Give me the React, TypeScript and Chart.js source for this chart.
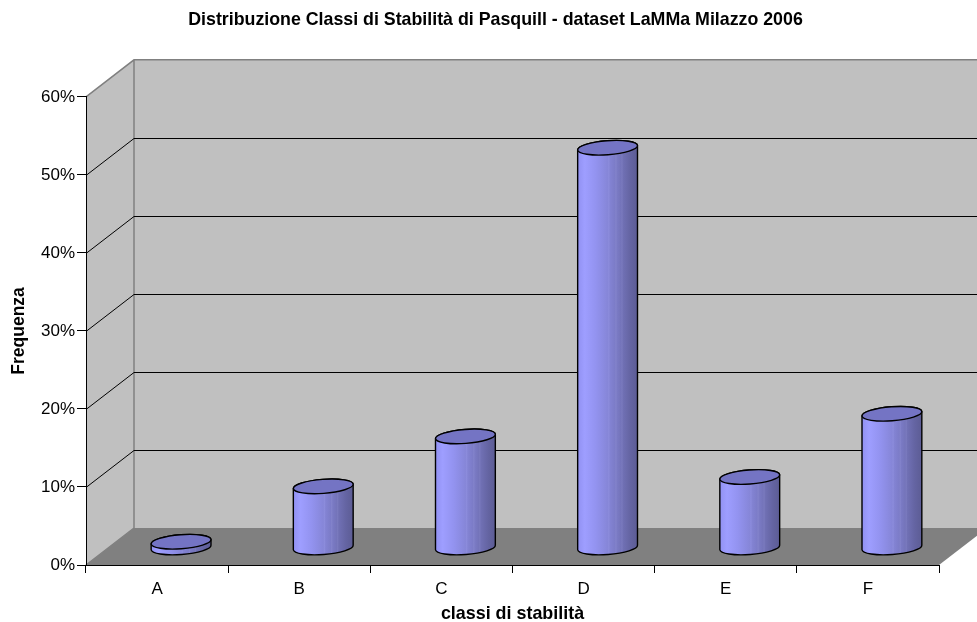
import React, { useEffect, useRef } from "react";
import { Chart, registerables } from "chart.js";

Chart.register(...registerables);

const categories = ["A", "B", "C", "D", "E", "F"];
const frequencies = [0.8, 7.9, 14.3, 51.3, 9.1, 17.2];
const chartTitle = "Distribuzione Classi di Stabilità di Pasquill - dataset LaMMa Milazzo 2006";
const xTitle = "classi di stabilità";
const yTitle = "Frequenza";

const DEPTH_X = 48;
const DEPTH_Y = 37;
const TITLE_SHIFT = 26;
const FONT = "'Liberation Sans', Arial, sans-serif";

const bodyStops: [number, string][] = [
  [0, "#9191f2"],
  [0.12, "#9e9eff"],
  [0.3, "#9393f0"],
  [0.5, "#8686d8"],
  [0.52, "#8c8cdc"],
  [0.54, "#8383d3"],
  [0.62, "#7c7cc8"],
  [0.64, "#8383cb"],
  [0.66, "#7a7ac4"],
  [0.72, "#7474ba"],
  [0.74, "#7a7abe"],
  [0.76, "#7070b4"],
  [0.88, "#6464a2"],
  [1, "#5c5c94"],
];

const cylinderPlugin = {
  id: "cylinder3d",
  afterLayout(chart: any) {
    const block = chart.titleBlock;
    if (block) {
      block.left += TITLE_SHIFT;
      block.right += TITLE_SHIFT;
    }
  },
  beforeDraw(chart: any) {
    const { ctx, chartArea, scales } = chart;
    const { left, right, top, bottom } = chartArea;
    const bx = left + DEPTH_X;
    const W = chart.width + DEPTH_X;
    ctx.save();
    ctx.fillStyle = "#c0c0c0";
    ctx.fillRect(bx, top - DEPTH_Y, W - bx, bottom - top);
    ctx.beginPath();
    ctx.moveTo(left, top);
    ctx.lineTo(bx, top - DEPTH_Y);
    ctx.lineTo(bx, bottom - DEPTH_Y);
    ctx.lineTo(left, bottom);
    ctx.closePath();
    ctx.fill();
    ctx.fillStyle = "#808080";
    ctx.beginPath();
    ctx.moveTo(left, bottom);
    ctx.lineTo(bx, bottom - DEPTH_Y);
    ctx.lineTo(right + DEPTH_X, bottom - DEPTH_Y);
    ctx.lineTo(right, bottom);
    ctx.closePath();
    ctx.fill();
    ctx.strokeStyle = "#808080";
    ctx.lineWidth = 1.5;
    ctx.beginPath();
    ctx.moveTo(left, top);
    ctx.lineTo(bx, top - DEPTH_Y);
    ctx.lineTo(W, top - DEPTH_Y);
    ctx.moveTo(bx, top - DEPTH_Y);
    ctx.lineTo(bx, bottom - DEPTH_Y);
    ctx.lineTo(left, bottom);
    ctx.stroke();
    ctx.strokeStyle = "#000000";
    ctx.lineWidth = 1;
    ctx.beginPath();
    for (const t of scales.y.ticks) {
      if (t.value === 0 || t.value === scales.y.max) continue;
      const y = Math.round(scales.y.getPixelForValue(t.value)) + 0.5;
      ctx.moveTo(left, y);
      ctx.lineTo(bx, y - DEPTH_Y);
      ctx.lineTo(W, y - DEPTH_Y);
    }
    ctx.stroke();
    ctx.restore();
  },
  beforeDatasetDraw(chart: any, args: any) {
    const { ctx } = chart;
    const bars = chart.getDatasetMeta(args.index).data;
    const dsColor = chart.data.datasets[args.index].backgroundColor;
    const rot = -0.075;
    const ry = 7;
    for (const bar of bars) {
      const x = bar.x + DEPTH_X / 2;
      const yTop = bar.y - DEPTH_Y / 2 + 1.5;
      const yBase = bar.base - DEPTH_Y / 2 + 1.5;
      const rx = bar.width / 2;
      const g = ctx.createLinearGradient(x - rx, 0, x + rx, 0);
      for (const [p, c] of bodyStops) g.addColorStop(p, c);
      ctx.save();
      ctx.lineJoin = "round";
      ctx.strokeStyle = "#000000";
      ctx.lineWidth = 1.4;
      ctx.fillStyle = g;
      ctx.beginPath();
      ctx.ellipse(x, yBase, rx, ry, rot, 0, Math.PI);
      ctx.ellipse(x, yTop, rx, ry, rot, Math.PI, Math.PI * 2);
      ctx.closePath();
      ctx.fill();
      ctx.stroke();
      ctx.fillStyle = dsColor;
      ctx.beginPath();
      ctx.ellipse(x, yTop, rx, ry, rot, 0, Math.PI * 2);
      ctx.fill();
      ctx.stroke();
      ctx.restore();
    }
    return false;
  },
};

export default function App() {
  const ref = useRef<HTMLCanvasElement>(null);
  useEffect(() => {
    const chart = new Chart(ref.current as HTMLCanvasElement, {
      type: "bar",
      data: {
        labels: categories,
        datasets: [
          {
            label: yTitle,
            data: frequencies,
            backgroundColor: "#7474c4",
            barThickness: 60,
          },
        ],
      },
      plugins: [cylinderPlugin],
      options: {
        animation: false,
        responsive: false,
        layout: { padding: { left: 0, right: 38, top: 0, bottom: 0 } },
        plugins: {
          legend: { display: false },
          tooltip: { enabled: false },
          title: {
            display: true,
            text: chartTitle,
            color: "#000000",
            font: { family: FONT, size: 17.8, weight: "bold", lineHeight: 1.2 },
            padding: { top: 9.5, bottom: 66 },
          },
        },
        scales: {
          x: {
            afterFit(s: any) {
              s.height = 57;
            },
            grid: {
              offset: true,
              drawOnChartArea: false,
              drawTicks: true,
              tickLength: 8,
              color: "#000000",
            },
            border: { color: "#000000", width: 1 },
            ticks: {
              color: "#000000",
              padding: 6,
              maxRotation: 0,
              font: { family: FONT, size: 17 },
            },
            title: {
              display: true,
              text: xTitle,
              color: "#000000",
              font: { family: FONT, size: 17.9, weight: "bold", lineHeight: 1.2 },
              padding: { top: 4, bottom: -3 },
            },
          },
          y: {
            min: 0,
            max: 60,
            afterFit(s: any) {
              s.width = 86;
            },
            grid: {
              drawOnChartArea: false,
              drawTicks: true,
              tickLength: 9,
              color: "#000000",
            },
            border: { color: "#000000", width: 1 },
            ticks: {
              stepSize: 10,
              color: "#000000",
              padding: 2,
              font: { family: FONT, size: 17 },
              callback: (v: any) => `${v}%`,
            },
            title: {
              display: true,
              text: yTitle,
              color: "#000000",
              font: { family: FONT, size: 17.5, weight: "bold", lineHeight: 1.2 },
              padding: { top: 9, bottom: 0 },
            },
          },
        },
      },
    } as any);
    return () => chart.destroy();
  }, []);
  return (
    <canvas
      ref={ref}
      width={977}
      height={622}
      style={{ position: "absolute", left: 0, top: 0, display: "block", background: "#ffffff" }}
    />
  );
}
